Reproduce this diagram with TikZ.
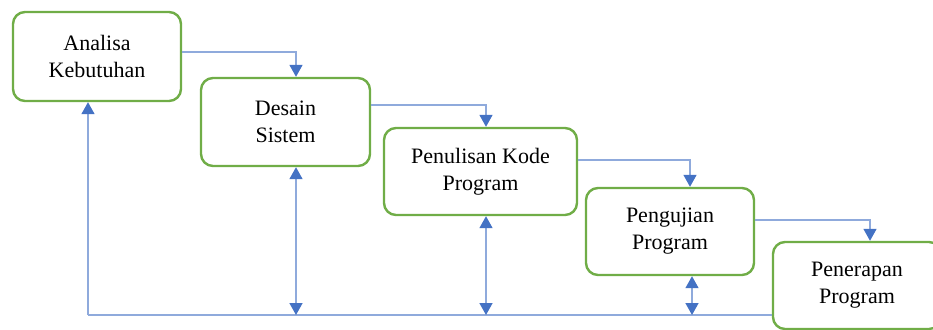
\documentclass[tikz,border=0pt]{standalone}
\usepackage{fontspec}
\setmainfont{Liberation Serif}
\usetikzlibrary{arrows.meta}
\definecolor{boxgreen}{HTML}{70AD47}
\definecolor{linkblue}{HTML}{8FAADC}
\definecolor{headblue}{HTML}{4472C4}
\tikzset{
  stage/.style={draw=boxgreen, line width=2.4pt, rounded corners=12pt, fill=white,
    align=center, font=\fontsize{22}{27}\selectfont, inner sep=0pt},
  link/.style={draw=linkblue, line width=1.6pt,
    -{Triangle[width=13pt,length=12pt,color=headblue]}},
  dlink/.style={draw=linkblue, line width=1.6pt,
    {Triangle[width=13pt,length=12pt,color=headblue]}-{Triangle[width=13pt,length=12pt,color=headblue]}},
  plain/.style={draw=linkblue, line width=1.6pt}
}
\begin{document}
\begin{tikzpicture}[x=1pt,y=-1pt]
\useasboundingbox (0,0) rectangle (933,329);
\begin{scope}
\clip (0,0) rectangle (933,329);
\node[stage, minimum width=168pt, minimum height=89pt] (a) at (97,56.5) {Analisa\\Kebutuhan};
\node[stage, minimum width=169pt, minimum height=88pt] (b) at (285.5,122) {Desain\\Sistem};
\node[stage, minimum width=193pt, minimum height=87pt] (c) at (480.5,171.5) {Penulisan Kode\\Program};
\node[stage, minimum width=168pt, minimum height=87pt] (d) at (670,231.5) {Pengujian\\Program};
\node[stage, minimum width=168pt, minimum height=87pt] (e) at (857,285.5) {Penerapan\\Program};

\coordinate (ka) at (296,52);
\coordinate (kb) at (486,105);
\coordinate (kc) at (690,160);
\coordinate (kd) at (870,220);
\draw[link] (a.east |- ka) -- (ka) -- (ka |- b.north);
\draw[link] (b.east |- kb) -- (kb) -- (kb |- c.north);
\draw[link] (c.east |- kc) -- (kc) -- (kc |- d.north);
\draw[link] (d.east |- kd) -- (kd) -- (kd |- e.north);

\coordinate (bl) at (88,315);
\coordinate (b1) at (296,315);
\coordinate (b2) at (486,315);
\coordinate (b3) at (692,315);
\draw[plain] (e.west |- bl) -- (bl);
\draw[link] (bl) -- (bl |- a.south);
\draw[dlink] (b1 |- b.south) -- (b1);
\draw[dlink] (b2 |- c.south) -- (b2);
\draw[dlink] (b3 |- d.south) -- (b3);
\end{scope}
\end{tikzpicture}
\end{document}
